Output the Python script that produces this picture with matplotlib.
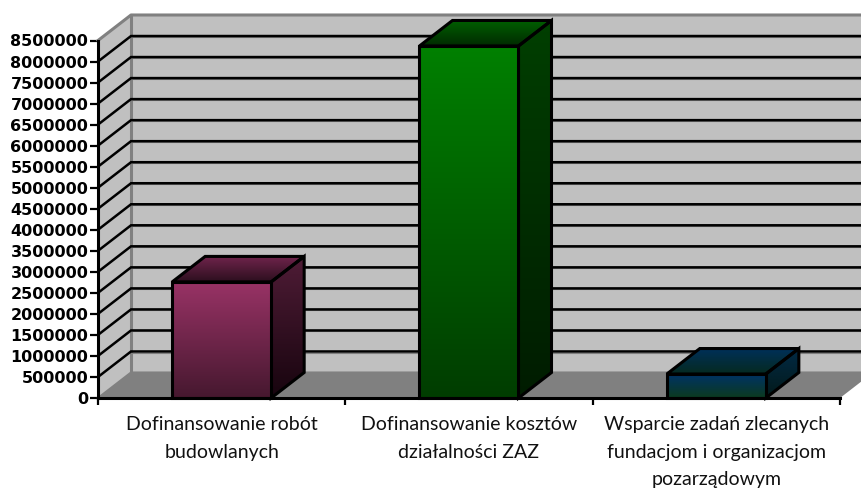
import numpy as np
import matplotlib
matplotlib.use("Agg")
import matplotlib.pyplot as plt
from matplotlib.patches import Polygon
from matplotlib.colors import LinearSegmentedColormap

categories = ["Dofinansowanie robót\nbudowlanych",
              "Dofinansowanie kosztów\ndziałalności ZAZ",
              "Wsparcie zadań zlecanych\nfundacjom i organizacjom\npozarządowym"]
values = [2760000, 8370000, 570000]
y_ticks = list(range(0, 8500001, 500000))

# (top, bottom) colours of the bar faces
front_colors = [("#993366", "#46182f"), ("#008000", "#003d00"), ("#003366", "#0c3a1e")]
side_colors = [("#4f1c36", "#17040e"), ("#003f00", "#001c00"), ("#022a45", "#021a1a")]
# (back edge, front edge) of the top face
top_colors = [("#70244c", "#2c0f1e"), ("#006000", "#002a00"), ("#00305a", "#052a20")]

W, H = 862, 491
fig = plt.figure(figsize=(W / 100, H / 100), dpi=100)
ax = fig.add_axes([98 / W, 1 - 398 / H, 742 / W, 357.5 / H])
ax.set_xlim(0, 3)
ax.set_ylim(0, 8500000)

# depth of the fake 3D box, in data units
dx = 33 / (742 / 3)
dy = 25.5 / 357.5 * 8500000
ymax = 8500000
far = 3 + dx


def poly(pts, fc, ec="none", lw=0, z=1):
    p = Polygon(pts, closed=True, fc=fc, ec=ec, lw=lw, zorder=z, clip_on=False, joinstyle="miter")
    ax.add_patch(p)
    return p


def gradient_poly(pts, c1, c2, z):
    # vertical gradient clipped to the polygon, c1 at the upper edge
    xs = [p[0] for p in pts]
    ys = [p[1] for p in pts]
    cmap = LinearSegmentedColormap.from_list("g", [c1, c2])
    im = ax.imshow(np.linspace(0, 1, 128).reshape(-1, 1), cmap=cmap, aspect="auto",
                   extent=[min(xs), max(xs), min(ys), max(ys)], zorder=z, origin="upper",
                   interpolation="bilinear")
    im.set_clip_box(fig.bbox)
    im.set_clip_path(Polygon(pts, closed=True, transform=ax.transData, fc="none", ec="none"))
    poly(pts, "none", "black", 2.2, z + 0.1)


# walls and floor
poly([(dx, dy), (far, dy), (far, ymax + dy), (dx, ymax + dy)], "#c0c0c0", z=1)
poly([(0, 0), (dx, dy), (dx, ymax + dy), (0, ymax)], "#c0c0c0", z=1)
poly([(0, 0), (3, 0), (far, dy), (dx, dy)], "#808080", z=1)
ax.plot([0, dx, far], [ymax, ymax + dy, ymax + dy], color="#808080", lw=2.2, zorder=2, clip_on=False)
ax.plot([dx, dx], [dy, ymax + dy], color="#808080", lw=2.2, zorder=2, clip_on=False)
ax.plot([0, dx, far], [0, dy, dy], color="#808080", lw=1.5, zorder=2, clip_on=False)

# gridlines on both walls
for t in y_ticks[1:-1]:
    ax.plot([0, dx, far], [t, t + dy, t + dy], color="black", lw=1.8, zorder=3,
            clip_on=False, solid_joinstyle="miter")
    ax.plot([dx, far], [t + dy - 25000, t + dy - 25000], color="#808080", lw=0.8, zorder=2.9, clip_on=False)

# bars
bar_w = 99 / (742 / 3)
for i, v in enumerate(values):
    x0 = i + 0.5 - bar_w / 2
    x1 = i + 0.5 + bar_w / 2
    gradient_poly([(x1, 0), (x1 + dx, dy), (x1 + dx, v + dy), (x1, v)], *side_colors[i], 5)
    gradient_poly([(x0, v), (x0 + dx, v + dy), (x1 + dx, v + dy), (x1, v)], *top_colors[i], 5)
    gradient_poly([(x0, 0), (x1, 0), (x1, v), (x0, v)], *front_colors[i], 6)

ax.set_xlim(0, 3)
ax.set_ylim(0, 8500000)

# axes
for s in ("top", "right"):
    ax.spines[s].set_visible(False)
ax.patch.set_visible(False)
ax.spines["left"].set_linewidth(2.2)
ax.spines["bottom"].set_linewidth(2.2)
ax.spines["left"].set_zorder(8)
ax.spines["bottom"].set_zorder(8)

ax.set_yticks(y_ticks)
ax.set_yticklabels([str(t) for t in y_ticks], fontsize=11.5, fontweight="bold", family="DejaVu Sans")
ax.tick_params(axis="y", length=5.5, width=1.6, pad=1.5)
ax.set_xticks([0, 1, 2, 3])
ax.set_xticklabels([])
ax.tick_params(axis="x", length=5, width=1.6)

for i, c in enumerate(categories):
    ax.annotate(c, (i + 0.5, 0), xytext=(0, -13), textcoords="offset points", ha="center", va="top",
                fontsize=14, family="Lato", color="#111111", linespacing=1.75, annotation_clip=False)

fig.savefig("out.png", dpi=100, facecolor="white")
